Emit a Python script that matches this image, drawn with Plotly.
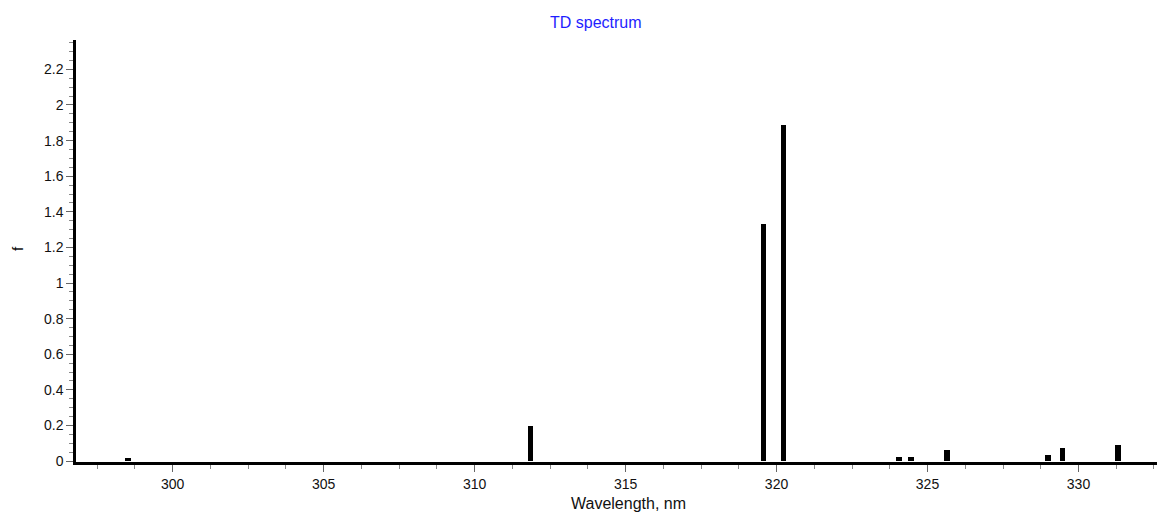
import plotly.graph_objects as go

wavelength_nm = [298.52, 311.85, 319.57, 320.23, 324.05, 324.45, 325.65, 329.0, 329.47, 331.32]
oscillator_f = [0.02, 0.20, 1.33, 1.89, 0.022, 0.022, 0.062, 0.035, 0.073, 0.092]

x_tick_vals = [300, 305, 310, 315, 320, 325, 330]
y_tick_vals = [0, 0.2, 0.4, 0.6, 0.8, 1, 1.2, 1.4, 1.6, 1.8, 2, 2.2]
y_tick_text = ["0", "0.2", "0.4", "0.6", "0.8", "1", "1.2", "1.4", "1.6", "1.8", "2", "2.2"]

FONT = "Liberation Sans, Arial, sans-serif"

fig = go.Figure()
fig.add_trace(go.Bar(
    x=wavelength_nm, y=oscillator_f, width=0.19,
    marker=dict(color="black", line=dict(width=0)),
    showlegend=False, hoverinfo="x+y",
))

fig.update_layout(
    width=1159, height=514,
    margin=dict(l=76, r=2, t=40, b=52),
    paper_bgcolor="white", plot_bgcolor="white",
    font=dict(family=FONT, size=14, color="#111"),
    bargap=0,
    xaxis=dict(
        range=[296.8, 332.6], tickvals=x_tick_vals, ticktext=[str(v) for v in x_tick_vals],
        showgrid=False, zeroline=False,
        showline=True, linecolor="black", linewidth=2.5,
        ticks="outside", ticklen=7, tickwidth=1, tickcolor="#666",
        minor=dict(dtick=1.25, tick0=300, ticks="outside", ticklen=4, tickwidth=1, tickcolor="#888", showgrid=False),
        tickfont=dict(size=14, family=FONT, color="#111"),
    ),
    yaxis=dict(
        range=[-0.005, 2.365], tickvals=y_tick_vals, ticktext=y_tick_text,
        showgrid=False, zeroline=False,
        showline=True, linecolor="black", linewidth=2.5,
        ticks="outside", ticklen=7, tickwidth=1, tickcolor="#666",
        minor=dict(dtick=0.05, tick0=0, ticks="outside", ticklen=4, tickwidth=1, tickcolor="#888", showgrid=False),
        tickfont=dict(size=14, family=FONT, color="#111"),
    ),
)

pw = 1159 - 76 - 2
ph = 514 - 40 - 52
def px(xpix):
    return (xpix - 76) / pw
def py(ypix):
    return (514 - 52 - ypix) / ph

fig.add_annotation(text="TD spectrum", x=px(596), y=py(23), xref="paper", yref="paper",
                   showarrow=False, xanchor="center", yanchor="middle",
                   font=dict(size=16, family=FONT, color="#1e1eff"))
fig.add_annotation(text="Wavelength, nm", x=px(628), y=py(503), xref="paper", yref="paper",
                   showarrow=False, xanchor="center", yanchor="middle",
                   font=dict(size=16, family=FONT, color="#111"))
fig.add_annotation(text="f", x=px(18), y=py(249), xref="paper", yref="paper",
                   showarrow=False, xanchor="center", yanchor="middle", textangle=-90,
                   font=dict(size=15, family=FONT, color="#111"))

fig.write_html("out.html")
